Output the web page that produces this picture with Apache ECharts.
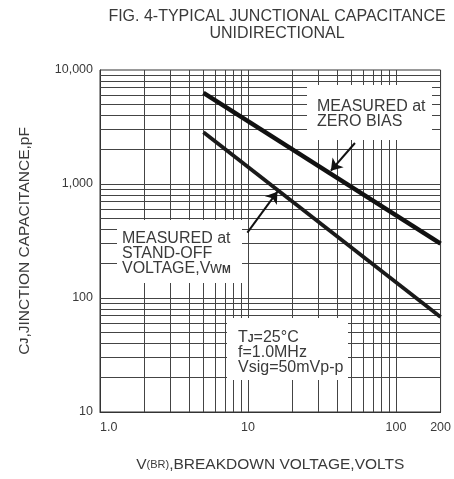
<!DOCTYPE html>
<html>
<head>
<meta charset="utf-8">
<script src="https://cdn.jsdelivr.net/npm/echarts@6/dist/echarts.min.js"></script>
<style>
  html, body { margin: 0; padding: 0; background: #fff; }
  #chart { width: 454px; height: 479px; }
</style>
</head>
<body>
<div id="chart"></div>
<script>
// ---- data ----
const xTickValues = [1, 10, 100, 200];
const xTickLabels = ['1.0', '10', '100', '200'];
const yTickValues = [10, 100, 1000, 10000];
const yTickLabels = ['10', '100', '1,000', '10,000'];
const xGridValues = [2, 3, 4, 5, 6, 7, 8, 9, 10, 20, 30, 40, 50, 60, 70, 80, 90, 100];
const yGridValues = [20, 30, 40, 50, 60, 70, 80, 90, 100, 200, 300, 400, 500, 600, 700, 800, 900, 1000, 2000, 3000, 4000, 5000, 6000, 7000, 8000, 9000];
const zeroBiasV = [5, 200];
const zeroBiasC = [6300, 300];
const standOffV = [5, 200];
const standOffC = [2850, 68];
const zeroArrowFrom = [52.8, 2290];
const zeroArrowTo = [36.3, 1308];
const standArrowFrom = [9.9, 374];
const standArrowTo = [15.8, 856];

const FONT = '"Liberation Sans", Arial, sans-serif';
const TXT = '#3a3a3a';
const GRID = '#444';

function lookup(vals, labels, v) {
  for (let i = 0; i < vals.length; i++) {
    if (Math.abs(Math.log10(v) - Math.log10(vals[i])) < 1e-6) return labels[i];
  }
  return '';
}

const chart = echarts.init(document.getElementById('chart'), null, { renderer: 'canvas' });

const gridLines = xGridValues.map(v => ({ xAxis: v })).concat(yGridValues.map(v => ({ yAxis: v })));

const option = {
  animation: false,
  backgroundColor: '#fff',
  grid: { left: 100, top: 70, right: 12, bottom: 67, show: true, borderColor: '#333', borderWidth: 1, backgroundColor: 'transparent' },
  xAxis: {
    type: 'log', logBase: 10, min: 1, max: 200,
    axisLine: { show: true, lineStyle: { color: '#333', width: 1 } },
    axisTick: { show: false },
    splitLine: { show: false },
    minorSplitLine: { show: false },
    axisLabel: {
      margin: 9, fontSize: 12.5, fontFamily: FONT, color: TXT,
      alignMinLabel: 'left',
      formatter: v => lookup(xTickValues, xTickLabels, v)
    },
    name: '{a|V}{b|(BR)}{a|,BREAKDOWN VOLTAGE,VOLTS}',
    nameLocation: 'middle', nameGap: 45,
    nameTextStyle: {
      rich: {
        a: { fontSize: 15.5, fontFamily: FONT, color: TXT },
        b: { fontSize: 11, fontFamily: FONT, color: TXT }
      }
    }
  },
  yAxis: {
    type: 'log', logBase: 10, min: 10, max: 10000,
    axisLine: { show: true, lineStyle: { color: '#333', width: 1 } },
    axisTick: { show: false },
    splitLine: { show: false },
    axisLabel: {
      margin: 7, fontSize: 12.5, fontFamily: FONT, color: TXT,
      formatter: v => lookup(yTickValues, yTickLabels, v)
    },
    name: '{a|C}{b|J}{a|,JINCTION CAPACITANCE,pF}',
    nameLocation: 'middle', nameGap: 67,
    nameTextStyle: {
      rich: {
        a: { fontSize: 15.5, fontFamily: FONT, color: TXT },
        b: { fontSize: 11, fontFamily: FONT, color: TXT, fontWeight: 'bold' }
      }
    }
  },
  series: [
    {
      name: 'grid', type: 'line', data: [[1, 10]], symbol: 'none', silent: true,
      lineStyle: { width: 0 },
      markLine: {
        z: 3, silent: true, symbol: ['none', 'none'], animation: false,
        label: { show: false },
        lineStyle: { color: GRID, width: 1, type: 'solid' },
        emphasis: { disabled: true },
        data: gridLines
      }
    },
    {
      name: 'Zero bias', type: 'line', z: 20, symbol: 'none', silent: true,
      data: zeroBiasV.map((v, i) => [v, zeroBiasC[i]]),
      lineStyle: { color: '#111', width: 4.5 },
      markLine: {
        z: 21, silent: true, symbol: ['none', 'arrow'], symbolSize: 11,
        label: { show: false },
        lineStyle: { color: '#111', width: 2, type: 'solid' },
        data: [[{ coord: zeroArrowFrom }, { coord: zeroArrowTo }]]
      }
    },
    {
      name: 'Stand-off', type: 'line', z: 20, symbol: 'none', silent: true,
      data: standOffV.map((v, i) => [v, standOffC[i]]),
      lineStyle: { color: '#1a1a1a', width: 3.8 },
      markLine: {
        z: 21, silent: true, symbol: ['none', 'arrow'], symbolSize: 11,
        label: { show: false },
        lineStyle: { color: '#111', width: 2, type: 'solid' },
        data: [[{ coord: standArrowFrom }, { coord: standArrowTo }]]
      }
    }
  ],
  graphic: [
    {
      type: 'text', z: 30,
      style: {
        text: 'FIG. 4-TYPICAL JUNCTIONAL CAPACITANCE\nUNIDIRECTIONAL',
        x: 277, y: 25, align: 'center', verticalAlign: 'middle',
        fontSize: 16, lineHeight: 16.5, fontFamily: FONT, fill: '#3a3a3a'
      }
    },
    { type: 'rect', z: 10, shape: { x: 307, y: 85, width: 125, height: 55 }, style: { fill: '#fff' } },
    {
      type: 'text', z: 11,
      style: {
        text: 'MEASURED at\nZERO BIAS', x: 317, y: 114, verticalAlign: 'middle',
        fontSize: 16, lineHeight: 15.5, fontFamily: FONT, fill: TXT
      }
    },
    { type: 'rect', z: 10, shape: { x: 117, y: 220, width: 125, height: 63 }, style: { fill: '#fff' } },
    {
      type: 'text', z: 11,
      style: {
        text: '{n|MEASURED at}\n{n|STAND-OFF}\n{n|VOLTAGE,Vw}{m|M}', x: 122, y: 253.5, verticalAlign: 'middle',
        fontFamily: FONT, fill: TXT,
        rich: {
          n: { fontSize: 16, lineHeight: 15, fontFamily: FONT, fill: TXT },
          m: { fontSize: 10.5, lineHeight: 15, fontFamily: FONT, fill: TXT, fontWeight: 'bold', verticalAlign: 'bottom' }
        }
      }
    },
    { type: 'rect', z: 10, shape: { x: 227, y: 318, width: 121, height: 62 }, style: { fill: '#fff' } },
    {
      type: 'text', z: 11,
      style: {
        text: '{n|T}{s|J}{n|=25°C}\n{n|f=1.0MHz}\n{n|Vsig=50mVp-p}', x: 238, y: 352.5, verticalAlign: 'middle',
        fontFamily: FONT, fill: TXT,
        rich: {
          n: { fontSize: 16, lineHeight: 15, fontFamily: FONT, fill: TXT },
          s: { fontSize: 10.5, lineHeight: 15, fontFamily: FONT, fill: TXT, fontWeight: 'bold', verticalAlign: 'bottom' }
        }
      }
    }
  ]
};

chart.setOption(option);
</script>
</body>
</html>
